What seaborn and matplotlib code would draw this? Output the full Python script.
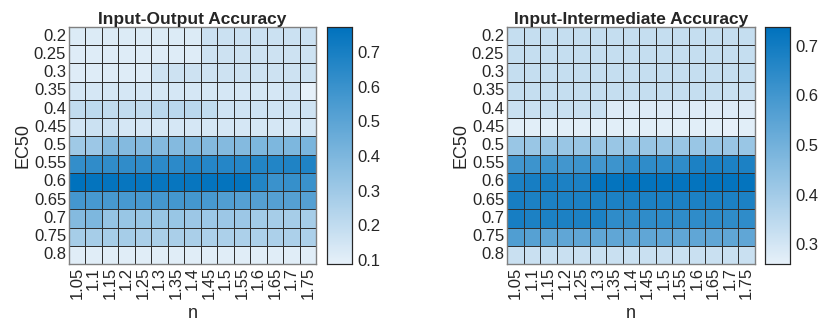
import numpy as np
import pandas as pd
import seaborn as sns
import matplotlib
matplotlib.use("Agg")
import matplotlib.pyplot as plt
from matplotlib.colors import LinearSegmentedColormap

ec50 = ["0.2", "0.25", "0.3", "0.35", "0.4", "0.45", "0.5", "0.55", "0.6", "0.65", "0.7", "0.75", "0.8"]
n_vals = ["1.05", "1.1", "1.15", "1.2", "1.25", "1.3", "1.35", "1.4", "1.45", "1.5", "1.55", "1.6", "1.65", "1.7", "1.75"]

io_acc = [
    [0.12, 0.12, 0.12, 0.12, 0.12, 0.12, 0.12, 0.12, 0.17, 0.17, 0.17, 0.17, 0.17, 0.17, 0.17],
    [0.115, 0.115, 0.115, 0.115, 0.115, 0.115, 0.115, 0.115, 0.165, 0.165, 0.165, 0.165, 0.165, 0.165, 0.165],
    [0.115, 0.115, 0.115, 0.115, 0.115, 0.165, 0.165, 0.165, 0.165, 0.165, 0.165, 0.165, 0.165, 0.165, 0.165],
    [0.14, 0.14, 0.14, 0.14, 0.14, 0.14, 0.14, 0.14, 0.14, 0.14, 0.14, 0.14, 0.14, 0.16, 0.089],
    [0.20, 0.21, 0.20, 0.20, 0.20, 0.22, 0.22, 0.22, 0.20, 0.16, 0.16, 0.16, 0.16, 0.16, 0.16],
    [0.15, 0.17, 0.17, 0.14, 0.14, 0.14, 0.14, 0.14, 0.14, 0.14, 0.14, 0.14, 0.14, 0.14, 0.14],
    [0.30, 0.31, 0.38, 0.38, 0.38, 0.38, 0.38, 0.38, 0.38, 0.38, 0.38, 0.40, 0.40, 0.40, 0.41],
    [0.62, 0.63, 0.63, 0.63, 0.63, 0.64, 0.64, 0.66, 0.66, 0.66, 0.66, 0.67, 0.67, 0.68, 0.68],
    [0.772, 0.76, 0.76, 0.75, 0.75, 0.75, 0.75, 0.75, 0.76, 0.76, 0.76, 0.67, 0.60, 0.61, 0.60],
    [0.57, 0.56, 0.56, 0.56, 0.56, 0.57, 0.57, 0.57, 0.56, 0.53, 0.52, 0.52, 0.52, 0.52, 0.52],
    [0.38, 0.40, 0.33, 0.32, 0.32, 0.32, 0.32, 0.31, 0.31, 0.31, 0.31, 0.29, 0.28, 0.28, 0.28],
    [0.28, 0.28, 0.28, 0.28, 0.27, 0.27, 0.27, 0.27, 0.26, 0.26, 0.26, 0.26, 0.26, 0.26, 0.26],
    [0.11, 0.11, 0.11, 0.11, 0.11, 0.11, 0.11, 0.11, 0.11, 0.11, 0.11, 0.11, 0.11, 0.11, 0.11],
]

ii_acc = [
    [0.33, 0.33, 0.33, 0.33, 0.33, 0.33, 0.33, 0.33, 0.33, 0.33, 0.33, 0.33, 0.33, 0.33, 0.33],
    [0.33, 0.33, 0.33, 0.33, 0.33, 0.33, 0.33, 0.33, 0.33, 0.33, 0.33, 0.33, 0.33, 0.33, 0.33],
    [0.33, 0.33, 0.33, 0.33, 0.33, 0.33, 0.33, 0.33, 0.33, 0.33, 0.33, 0.33, 0.33, 0.33, 0.33],
    [0.33, 0.33, 0.33, 0.33, 0.33, 0.33, 0.33, 0.33, 0.33, 0.33, 0.33, 0.33, 0.33, 0.32, 0.32],
    [0.32, 0.32, 0.32, 0.32, 0.32, 0.32, 0.28, 0.28, 0.28, 0.28, 0.28, 0.28, 0.28, 0.28, 0.28],
    [0.27, 0.27, 0.27, 0.27, 0.27, 0.27, 0.27, 0.27, 0.27, 0.27, 0.27, 0.27, 0.27, 0.26, 0.27],
    [0.42, 0.42, 0.42, 0.42, 0.42, 0.42, 0.42, 0.42, 0.42, 0.42, 0.42, 0.42, 0.42, 0.42, 0.42],
    [0.60, 0.61, 0.61, 0.60, 0.61, 0.60, 0.61, 0.64, 0.64, 0.64, 0.64, 0.68, 0.68, 0.68, 0.68],
    [0.68, 0.69, 0.69, 0.68, 0.68, 0.73, 0.73, 0.738, 0.73, 0.73, 0.73, 0.73, 0.73, 0.73, 0.73],
    [0.69, 0.68, 0.68, 0.68, 0.68, 0.68, 0.68, 0.68, 0.68, 0.68, 0.68, 0.68, 0.68, 0.68, 0.68],
    [0.69, 0.68, 0.68, 0.68, 0.68, 0.68, 0.64, 0.64, 0.64, 0.64, 0.64, 0.64, 0.64, 0.64, 0.64],
    [0.57, 0.56, 0.54, 0.54, 0.54, 0.54, 0.54, 0.54, 0.54, 0.54, 0.54, 0.54, 0.54, 0.54, 0.54],
    [0.32, 0.32, 0.32, 0.32, 0.32, 0.32, 0.32, 0.32, 0.32, 0.32, 0.32, 0.32, 0.32, 0.32, 0.32],
]

cmap = LinearSegmentedColormap.from_list("mblue", ["#E6F0F9", "#0072BD"])

sns.set_style("white")
plt.rcParams["font.family"] = ["Liberation Sans", "DejaVu Sans"]

W, H = 819, 327
fig = plt.figure(figsize=(W / 100, H / 100), dpi=100)

def px_axes(x0, y0, x1, y1):
    return fig.add_axes([x0 / W, 1 - y1 / H, (x1 - x0) / W, (y1 - y0) / H])

panels = [
    (io_acc, "Input-Output Accuracy", (69, 27, 316, 264), (327, 27, 352, 264), [0.1, 0.2, 0.3, 0.4, 0.5, 0.6, 0.7]),
    (ii_acc, "Input-Intermediate Accuracy", (507, 27, 755, 264), (765, 27, 790, 264), [0.3, 0.4, 0.5, 0.6, 0.7]),
]

for data, title, hbox, cbox, cticks in panels:
    ax = px_axes(*hbox)
    cax = px_axes(*cbox)
    df = pd.DataFrame(data, index=ec50, columns=n_vals)
    sns.heatmap(df, ax=ax, cbar_ax=cax, cmap=cmap, linewidths=0.6, linecolor="#303030",
                vmin=np.min(data), vmax=np.max(data))
    ax.set_title(title, fontsize=12.5, fontweight="bold", color="#262626", pad=2)
    ax.set_xlabel("n", fontsize=13, color="#262626", labelpad=4)
    ax.set_ylabel("EC50", fontsize=13, color="#262626", labelpad=2)
    ax.tick_params(axis="both", length=0, labelsize=12, colors="#262626", pad=2)
    ax.set_xticklabels(n_vals, rotation=90)
    ax.set_yticklabels(ec50, rotation=0)
    for s in ax.spines.values():
        s.set_visible(True)
        s.set_color("#808080")
        s.set_linewidth(1.0)
    cax.set_yticks(cticks)
    cax.set_yticklabels([f"{t:g}" for t in cticks])
    cax.tick_params(axis="y", direction="in", length=3, width=0.8, labelsize=12,
                    colors="#262626", pad=4, right=True, left=False)
    for s in cax.spines.values():
        s.set_visible(True)
        s.set_color("#262626")
        s.set_linewidth(0.8)

fig.savefig("out.png", dpi=100)
